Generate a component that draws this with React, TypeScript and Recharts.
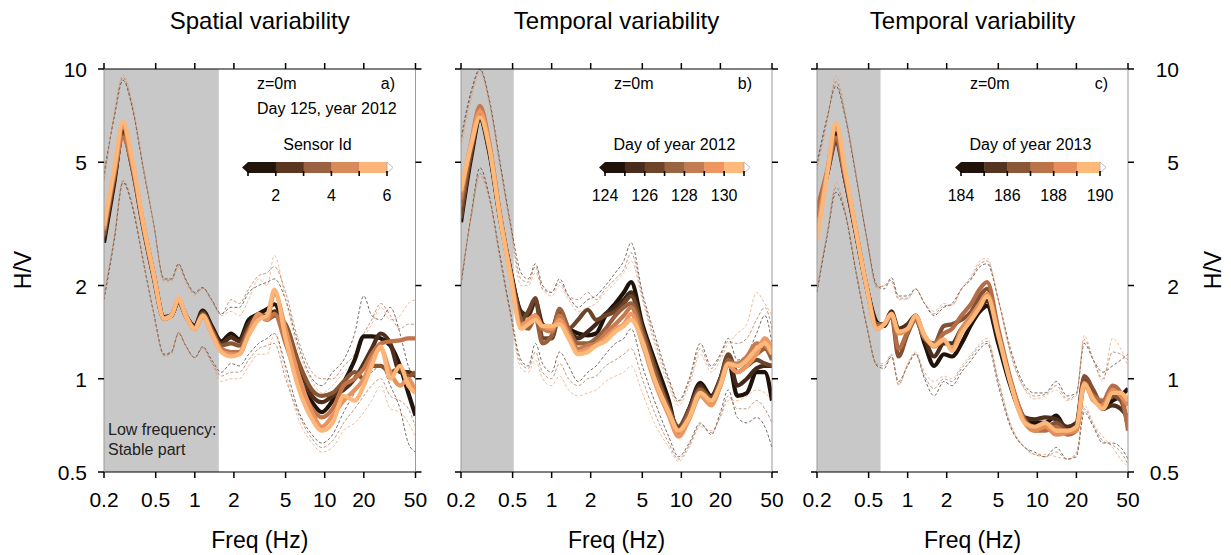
import React from 'react';
import { LineChart, Line, XAxis, YAxis, ReferenceArea } from 'recharts';

const FONT = '"Liberation Sans", Arial, Helvetica, sans-serif';
const W = 1231;
const H = 555;
const PLOT_TOP = 69;
const PLOT_BOTTOM = 472;

const freqs = [0.2, 0.24, 0.28, 0.33, 0.4, 0.48, 0.58, 0.66, 0.75, 0.85, 1.0, 1.15, 1.35, 1.6, 1.9, 2.2, 2.6, 3.1, 3.6, 4.1, 5, 6.2, 8, 9.5, 11.5, 14, 17, 20, 23, 27, 32, 38, 44, 50];
const xTicks = [0.2, 0.5, 1, 2, 5, 10, 20, 50];
const yTicks = [0.5, 1, 2, 5, 10];

// ---- Panel a: spatial variability (sensor 1..6) ----
const aS1 = [2.75, 4.3, 6.35, 4.9, 3.15, 2.2, 1.58, 1.6, 1.78, 1.6, 1.48, 1.66, 1.48, 1.32, 1.40, 1.34, 1.55, 1.62, 1.68, 1.74, 1.4, 1.02, 0.84, 0.78, 0.85, 0.97, 1.15, 1.37, 1.37, 1.35, 1.28, 1.1, 0.9, 0.76];
const aS2 = [2.85, 4.4, 6.2, 4.8, 3.1, 2.15, 1.57, 1.6, 1.78, 1.6, 1.47, 1.64, 1.46, 1.3, 1.36, 1.32, 1.5, 1.6, 1.6, 1.65, 1.45, 1.12, 0.88, 0.84, 0.88, 0.92, 1.0, 1.12, 1.25, 1.4, 1.3, 1.05, 1.05, 1.02];
const aS3 = [2.9, 4.5, 6.1, 4.8, 3.1, 2.15, 1.56, 1.6, 1.79, 1.6, 1.46, 1.62, 1.44, 1.28, 1.3, 1.28, 1.45, 1.6, 1.55, 1.6, 1.5, 1.15, 0.92, 0.88, 0.9, 0.98, 1.05, 1.0, 1.1, 1.1, 1.05, 1.08, 1.02, 1.05];
const aS4 = [3.0, 4.6, 6.0, 4.9, 3.15, 2.2, 1.57, 1.6, 1.8, 1.6, 1.45, 1.6, 1.42, 1.25, 1.22, 1.22, 1.42, 1.6, 1.55, 1.62, 1.3, 1.0, 0.8, 0.75, 0.8, 0.95, 1.0, 1.08, 1.2, 1.3, 1.32, 1.33, 1.35, 1.35];
const aS5 = [3.05, 4.7, 6.5, 5.0, 3.2, 2.2, 1.57, 1.6, 1.8, 1.6, 1.45, 1.6, 1.4, 1.23, 1.2, 1.2, 1.4, 1.62, 1.55, 1.9, 1.45, 1.05, 0.78, 0.7, 0.76, 0.85, 0.92, 1.0, 1.15, 1.25, 1.05, 0.95, 1.0, 0.9];
const aS6 = [3.12, 4.8, 6.75, 5.1, 3.2, 2.2, 1.56, 1.6, 1.82, 1.6, 1.45, 1.6, 1.4, 1.22, 1.18, 1.2, 1.38, 1.55, 1.6, 1.94, 1.35, 0.95, 0.74, 0.68, 0.72, 0.88, 0.85, 0.95, 1.1, 1.27, 1.0, 1.1, 0.95, 0.9];
const aUpD = [4.6, 7.0, 9.2, 7.5, 4.8, 3.2, 2.1, 2.1, 2.35, 2.1, 1.9, 1.97, 1.8, 1.62, 1.7, 1.7, 1.9, 2.0, 2.05, 2.1, 1.8, 1.3, 1.0, 0.95, 1.05, 1.15, 1.4, 1.85, 1.6, 1.55, 1.7, 1.4, 1.1, 1.0];
const aUpL = [4.3, 7.2, 9.6, 7.8, 4.9, 3.2, 2.05, 2.05, 2.3, 2.05, 1.85, 1.95, 1.78, 1.6, 1.65, 1.6, 1.8, 2.1, 2.0, 2.5, 1.8, 1.25, 0.98, 0.9, 0.95, 1.05, 1.15, 1.35, 1.5, 1.7, 1.55, 1.6, 1.75, 1.8];
const aUpM = [4.4, 7.1, 9.4, 7.6, 4.85, 3.2, 2.08, 2.08, 2.33, 2.08, 1.88, 1.96, 1.79, 1.61, 1.8, 1.75, 1.95, 2.15, 2.2, 2.3, 1.9, 1.35, 1.05, 1.0, 1.0, 1.1, 1.2, 1.4, 1.55, 1.75, 1.6, 1.45, 1.5, 1.5];
const aLoD = [1.8, 2.8, 4.3, 3.6, 2.4, 1.65, 1.2, 1.22, 1.4, 1.28, 1.17, 1.27, 1.15, 1.05, 1.12, 1.1, 1.2, 1.3, 1.35, 1.4, 1.1, 0.8, 0.66, 0.62, 0.66, 0.78, 0.9, 1.0, 1.05, 1.1, 0.95, 0.8, 0.62, 0.58];
const aLoL = [1.9, 2.9, 4.4, 3.7, 2.45, 1.65, 1.18, 1.2, 1.42, 1.28, 1.17, 1.25, 1.12, 0.98, 1.0, 1.0, 1.1, 1.2, 1.2, 1.4, 1.05, 0.75, 0.62, 0.58, 0.6, 0.68, 0.72, 0.78, 0.85, 0.95, 0.8, 0.78, 0.72, 0.65];
const aLoM = [1.85, 2.85, 4.35, 3.65, 2.42, 1.65, 1.19, 1.21, 1.41, 1.28, 1.17, 1.26, 1.13, 1.02, 1.05, 1.05, 1.15, 1.25, 1.28, 1.3, 1.0, 0.78, 0.64, 0.6, 0.63, 0.72, 0.8, 0.88, 0.95, 1.0, 0.88, 0.85, 0.8, 0.7];

// ---- Panel b: temporal variability, 2012 (day 124..130) ----
const bS1 = [3.2, 5.2, 6.9, 5.4, 3.3, 2.25, 1.6, 1.5, 1.6, 1.45, 1.45, 1.55, 1.45, 1.4, 1.38, 1.4, 1.6, 1.75, 1.9, 2.05, 1.5, 1.15, 0.85, 0.66, 0.8, 0.97, 0.88, 1.0, 1.15, 0.88, 0.9, 1.05, 1.05, 0.85];
const bS2 = [3.4, 5.4, 7.0, 5.5, 3.35, 2.25, 1.65, 1.6, 1.78, 1.5, 1.45, 1.65, 1.45, 1.35, 1.42, 1.5, 1.62, 1.7, 1.8, 1.9, 1.45, 1.1, 0.82, 0.68, 0.8, 0.95, 0.85, 1.0, 1.18, 0.95, 1.0, 1.08, 1.1, 1.1];
const bS3 = [3.3, 5.4, 7.0, 5.5, 3.3, 2.2, 1.55, 1.65, 1.82, 1.35, 1.35, 1.6, 1.45, 1.55, 1.67, 1.55, 1.6, 1.65, 1.75, 1.85, 1.45, 1.1, 0.8, 0.7, 0.8, 0.93, 0.87, 1.0, 1.2, 1.05, 1.1, 1.15, 1.12, 1.1];
const bS4 = [3.6, 5.6, 7.2, 5.6, 3.35, 2.2, 1.55, 1.45, 1.58, 1.3, 1.38, 1.68, 1.45, 1.3, 1.3, 1.35, 1.45, 1.6, 1.7, 1.75, 1.4, 1.05, 0.8, 0.68, 0.78, 0.92, 0.85, 0.98, 1.15, 1.1, 1.15, 1.2, 1.25, 1.15];
const bS5 = [3.8, 5.8, 7.6, 5.8, 3.4, 2.2, 1.5, 1.52, 1.6, 1.45, 1.42, 1.6, 1.4, 1.25, 1.28, 1.3, 1.4, 1.5, 1.6, 1.7, 1.35, 1.0, 0.78, 0.66, 0.75, 0.9, 0.83, 0.95, 1.12, 1.12, 1.18, 1.3, 1.28, 1.2];
const bS6 = [4.0, 5.8, 7.3, 5.7, 3.35, 2.2, 1.48, 1.55, 1.6, 1.48, 1.45, 1.55, 1.38, 1.22, 1.25, 1.28, 1.35, 1.45, 1.5, 1.62, 1.3, 0.98, 0.76, 0.65, 0.74, 0.88, 0.82, 0.95, 1.1, 1.05, 1.1, 1.2, 1.35, 1.25];
const bS7 = [4.05, 5.7, 7.0, 5.6, 3.3, 2.15, 1.45, 1.5, 1.55, 1.48, 1.48, 1.5, 1.35, 1.2, 1.22, 1.28, 1.32, 1.42, 1.48, 1.55, 1.32, 1.0, 0.78, 0.68, 0.75, 0.9, 0.85, 0.96, 1.12, 1.1, 1.15, 1.25, 1.3, 1.2];
const bUpD = [6.0, 8.5, 10, 8.0, 5.0, 3.2, 2.2, 2.1, 2.35, 2.0, 1.9, 2.1, 1.85, 1.7, 1.8, 1.85, 2.0, 2.2, 2.4, 2.75, 1.9, 1.4, 1.0, 0.85, 1.0, 1.3, 1.1, 1.2, 1.35, 1.15, 1.2, 1.4, 1.6, 1.3];
const bUpL = [5.5, 8.0, 9.7, 7.7, 4.8, 3.1, 2.0, 2.0, 2.2, 1.95, 1.85, 2.0, 1.8, 1.65, 1.7, 1.75, 1.9, 2.05, 2.2, 2.4, 1.8, 1.3, 0.95, 0.82, 0.95, 1.2, 1.05, 1.15, 1.3, 1.4, 1.5, 1.9, 1.75, 1.6];
const bUpM = [5.8, 8.3, 9.9, 7.9, 4.9, 3.15, 2.1, 2.05, 2.3, 1.95, 1.9, 2.05, 1.85, 1.8, 1.9, 1.8, 1.95, 2.1, 2.25, 2.55, 1.85, 1.35, 0.98, 0.84, 0.98, 1.25, 1.08, 1.18, 1.32, 1.3, 1.35, 1.55, 1.7, 1.45];
const bLoD = [2.0, 3.4, 4.8, 3.9, 2.5, 1.65, 1.15, 1.1, 1.3, 1.12, 1.05, 1.22, 1.1, 0.98, 1.05, 1.1, 1.2, 1.3, 1.35, 1.45, 1.1, 0.85, 0.65, 0.56, 0.62, 0.72, 0.66, 0.78, 0.92, 0.75, 0.72, 0.75, 0.7, 0.6];
const bLoL = [2.1, 3.3, 4.5, 3.8, 2.4, 1.6, 1.08, 1.05, 1.15, 1.0, 0.95, 1.02, 0.92, 0.88, 0.9, 0.92, 0.98, 1.02, 1.05, 1.1, 0.9, 0.72, 0.6, 0.54, 0.6, 0.7, 0.68, 0.75, 0.85, 0.85, 0.88, 0.92, 0.9, 0.85];
const bLoM = [2.05, 3.35, 4.6, 3.85, 2.45, 1.62, 1.12, 1.08, 1.22, 1.05, 1.0, 1.12, 1.0, 0.95, 1.0, 1.02, 1.1, 1.15, 1.2, 1.25, 1.0, 0.78, 0.62, 0.55, 0.61, 0.71, 0.67, 0.76, 0.88, 0.8, 0.8, 0.85, 0.8, 0.72];

// ---- Panel c: temporal variability, 2013 (day 184..190) ----
const cS1 = [3.3, 4.6, 6.2, 4.4, 2.95, 2.0, 1.52, 1.48, 1.62, 1.42, 1.48, 1.58, 1.3, 1.1, 1.2, 1.18, 1.3, 1.5, 1.65, 1.72, 1.3, 0.95, 0.74, 0.72, 0.72, 0.76, 0.68, 0.7, 0.98, 0.9, 0.8, 0.85, 0.88, 0.93];
const cS2 = [3.5, 4.6, 5.8, 4.4, 2.95, 2.0, 1.5, 1.5, 1.65, 1.45, 1.5, 1.6, 1.35, 1.18, 1.3, 1.3, 1.45, 1.55, 1.7, 1.78, 1.35, 0.97, 0.75, 0.74, 0.75, 0.74, 0.7, 0.72, 1.0, 0.9, 0.8, 0.82, 0.8, 0.75];
const cS3 = [3.4, 4.6, 5.9, 4.4, 2.95, 2.0, 1.5, 1.5, 1.6, 1.18, 1.4, 1.55, 1.35, 1.3, 1.48, 1.5, 1.55, 1.65, 1.85, 1.95, 1.4, 0.98, 0.74, 0.7, 0.7, 0.72, 0.68, 0.7, 1.02, 0.92, 0.82, 0.88, 0.85, 0.7];
const cS4 = [3.5, 4.7, 6.0, 4.5, 3.0, 2.0, 1.48, 1.5, 1.6, 1.25, 1.42, 1.55, 1.35, 1.3, 1.4, 1.45, 1.6, 1.75, 1.95, 2.05, 1.45, 1.0, 0.73, 0.68, 0.68, 0.7, 0.66, 0.68, 0.95, 0.88, 0.85, 0.95, 0.9, 0.68];
const cS5 = [3.0, 4.7, 6.5, 4.6, 3.0, 2.0, 1.45, 1.5, 1.62, 1.4, 1.45, 1.58, 1.38, 1.27, 1.33, 1.25, 1.45, 1.6, 1.75, 1.88, 1.4, 0.98, 0.72, 0.68, 0.7, 0.66, 0.67, 0.68, 0.97, 0.85, 0.82, 0.92, 0.88, 0.82];
const cS6 = [2.8, 4.6, 6.7, 4.7, 3.0, 2.0, 1.45, 1.5, 1.62, 1.42, 1.45, 1.6, 1.38, 1.28, 1.34, 1.23, 1.4, 1.55, 1.7, 1.85, 1.38, 0.97, 0.72, 0.7, 0.72, 0.68, 0.68, 0.7, 0.96, 0.86, 0.8, 0.9, 0.9, 0.85];
const cUpD = [5.0, 7.0, 8.8, 7.0, 4.5, 2.9, 2.0, 1.95, 2.12, 1.85, 1.85, 1.95, 1.75, 1.6, 1.7, 1.75, 1.95, 2.1, 2.3, 2.35, 1.8, 1.25, 0.95, 0.9, 0.9, 0.98, 0.88, 0.9, 1.3, 1.15, 1.05, 1.1, 1.15, 1.2];
const cUpL = [4.7, 6.8, 9.5, 7.3, 4.6, 2.9, 1.95, 2.0, 2.05, 1.8, 1.8, 1.95, 1.75, 1.65, 1.75, 1.72, 1.95, 2.15, 2.4, 2.45, 1.8, 1.2, 0.92, 0.86, 0.88, 0.92, 0.85, 0.88, 1.38, 1.15, 0.98, 1.35, 1.25, 1.1];
const cUpM = [4.85, 6.9, 9.1, 7.1, 4.55, 2.9, 1.98, 2.0, 2.08, 1.82, 1.82, 1.95, 1.75, 1.62, 1.72, 1.73, 1.95, 2.12, 2.35, 2.4, 1.8, 1.22, 0.93, 0.88, 0.89, 0.95, 0.86, 0.89, 1.34, 1.15, 1.0, 1.22, 1.2, 1.15];
const cLoD = [1.9, 2.9, 4.0, 3.4, 2.2, 1.5, 1.1, 1.08, 1.18, 0.98, 1.1, 1.2, 1.0, 0.88, 0.98, 0.95, 1.05, 1.15, 1.25, 1.3, 0.95, 0.7, 0.6, 0.58, 0.56, 0.6, 0.55, 0.56, 0.78, 0.7, 0.62, 0.62, 0.6, 0.55];
const cLoL = [2.0, 3.0, 4.3, 3.5, 2.25, 1.5, 1.12, 1.12, 1.2, 0.95, 1.12, 1.22, 1.05, 0.98, 1.02, 1.0, 1.1, 1.2, 1.3, 1.35, 1.0, 0.72, 0.6, 0.57, 0.57, 0.56, 0.55, 0.58, 0.82, 0.72, 0.65, 0.6, 0.55, 0.52];
const cLoM = [1.95, 2.95, 4.15, 3.45, 2.22, 1.5, 1.11, 1.1, 1.19, 0.96, 1.11, 1.21, 1.02, 0.93, 1.0, 0.98, 1.08, 1.18, 1.28, 1.32, 0.98, 0.71, 0.6, 0.57, 0.56, 0.58, 0.55, 0.57, 0.8, 0.71, 0.63, 0.61, 0.58, 0.53];

const aColors = ['#21140b', '#4f2f1c', '#8a5533', '#c07448', '#e8935f', '#fdb679'];
const bColors = ['#1e120a', '#42281a', '#6b4429', '#98603c', '#c57c50', '#ee9762', '#fdb97a'];
const cColors = ['#1e120a', '#4d2f1e', '#825034', '#b46e47', '#e28e5b', '#fdb778'];
const dashColors = ['#3d2b20', '#e9a171', '#a06a4a', '#3d2b20', '#e9a171', '#a06a4a'];

const aBar = ['#22150c', '#5a3520', '#9a6240', '#d98a5b', '#fcb478'];
const bBar = ['#1e120b', '#4a2c1c', '#6f4529', '#9a6440', '#c27c52', '#ee9660', '#fdb97b'];
const cBar = ['#1e120b', '#553522', '#8a5836', '#bb744a', '#e68f5c', '#fdb97a'];
const aBarTicks = [1, 2, 3, 4, 5, 6];
const aBarLabels = [2, 4, 6];
const bBarTicks = [124, 125, 126, 127, 128, 129, 130, 131];
const bBarLabels = [124, 126, 128, 130];
const cBarTicks = [184, 185, 186, 187, 188, 189, 190];
const cBarLabels = [184, 186, 188, 190];

type PanelCfg = {
  left: number;
  right: number;
  shadeEnd: number;
  thick: number[][];
  colors: string[];
  dashed: number[][];
  yLabels: 'left' | 'right' | 'none';
};

const panels: PanelCfg[] = [
  { left: 104, right: 415.5, shadeEnd: 1.53, thick: [aS1, aS2, aS3, aS4, aS5, aS6], colors: aColors, dashed: [aUpD, aUpL, aUpM, aLoD, aLoL, aLoM], yLabels: 'left' },
  { left: 461, right: 772, shadeEnd: 0.51, thick: [bS1, bS2, bS3, bS4, bS5, bS6, bS7], colors: bColors, dashed: [bUpD, bUpL, bUpM, bLoD, bLoL, bLoM], yLabels: 'none' },
  { left: 817, right: 1128, shadeEnd: 0.618, thick: [cS1, cS2, cS3, cS4, cS5, cS6], colors: cColors, dashed: [cUpD, cUpL, cUpM, cLoD, cLoL, cLoM], yLabels: 'right' },
];

const NoTick = () => <g />;

function Panel({ cfg }: { cfg: PanelCfg }) {
  const leftW = cfg.yLabels === 'left' ? 60 : 10;
  const rightW = cfg.yLabels === 'right' ? 60 : 10;
  const margin = {
    top: PLOT_TOP - 10,
    bottom: H - PLOT_BOTTOM - 40,
    left: cfg.left - leftW,
    right: W - cfg.right - rightW,
  };
  const data = freqs.map((f, i) => {
    const row: Record<string, number> = { f };
    cfg.thick.forEach((s, k) => { row['s' + k] = s[i]; });
    cfg.dashed.forEach((s, k) => { row['d' + k] = s[i]; });
    return row;
  });
  const xTick = (p: any) => (
    <text x={p.x} y={507} textAnchor="middle" fontSize={21} fontFamily={FONT} fill="#000">{String(p.payload.value)}</text>
  );
  const yTickLeft = (p: any) => (
    <text x={cfg.left - 17} y={p.y + 8} textAnchor="end" fontSize={21} fontFamily={FONT} fill="#000">{String(p.payload.value)}</text>
  );
  const yTickRight = (p: any) => (
    <text x={cfg.right + 51} y={p.y + 8} textAnchor="end" fontSize={21} fontFamily={FONT} fill="#000">{String(p.payload.value)}</text>
  );
  return (
    <div style={{ position: 'absolute', left: 0, top: 0 }}>
      <LineChart width={W} height={H} data={data} margin={margin}>
        <ReferenceArea x1={0.2} x2={cfg.shadeEnd} y1={0.5} y2={10} fill="#c8c8c8" fillOpacity={1} stroke="none" ifOverflow="hidden" />
        <XAxis dataKey="f" type="number" scale="log" domain={[0.2, 50]} ticks={xTicks} interval={0} allowDataOverflow
          height={40} tickSize={6} axisLine={{ stroke: '#000', strokeWidth: 1 }} tickLine={{ stroke: '#000', strokeWidth: 1.5 }} tick={xTick} />
        <XAxis xAxisId="top" orientation="top" dataKey="f" type="number" scale="log" domain={[0.2, 50]} ticks={xTicks} interval={0} allowDataOverflow
          height={10} tickSize={6} axisLine={{ stroke: '#000', strokeWidth: 1 }} tickLine={{ stroke: '#000', strokeWidth: 1.5 }} tick={NoTick} />
        <YAxis type="number" scale="log" domain={[0.5, 10]} ticks={yTicks} interval={0} allowDataOverflow width={leftW}
          tickSize={6} axisLine={{ stroke: '#999', strokeWidth: 1 }} tickLine={{ stroke: '#000', strokeWidth: 1.5 }}
          tick={cfg.yLabels === 'left' ? yTickLeft : NoTick} />
        <YAxis yAxisId="right" orientation="right" type="number" scale="log" domain={[0.5, 10]} ticks={yTicks} interval={0} allowDataOverflow width={rightW}
          tickSize={6} axisLine={{ stroke: '#999', strokeWidth: 1 }} tickLine={{ stroke: '#000', strokeWidth: 1.5 }}
          tick={cfg.yLabels === 'right' ? yTickRight : NoTick} />
        {cfg.dashed.map((_, k) => (
          <Line key={'d' + k} dataKey={'d' + k} type="monotone" stroke={dashColors[k]} strokeWidth={0.7} strokeDasharray="3 2"
            dot={false} activeDot={false} isAnimationActive={false} />
        ))}
        {cfg.thick.map((_, k) => (
          <Line key={'s' + k} dataKey={'s' + k} type="monotone" stroke={cfg.colors[k]} strokeWidth={4.2}
            dot={false} activeDot={false} isAnimationActive={false} />
        ))}
      </LineChart>
    </div>
  );
}

function Colorbar({ left, colors, ticks, labels, title }: { left: number; colors: string[]; ticks: number[]; labels: number[]; title: string }) {
  const x0 = left + 144;
  const x1 = left + 283;
  const y0 = 162;
  const h = 11;
  const w = (x1 - x0) / colors.length;
  const t0 = ticks[0];
  const t1 = ticks[ticks.length - 1];
  const pos = (v: number) => x0 + ((v - t0) / (t1 - t0)) * (x1 - x0);
  return (
    <g fontFamily={FONT}>
      <text x={(x0 + x1) / 2} y={150} textAnchor="middle" fontSize={16} fill="#000">{title}</text>
      <polygon points={`${x0},${y0} ${x0},${y0 + h} ${x0 - 6},${y0 + h / 2}`} fill={colors[0]} />
      {colors.map((c, i) => (
        <rect key={i} x={x0 + i * w} y={y0} width={w + 0.4} height={h} fill={c} />
      ))}
      <polygon points={`${x1},${y0} ${x1},${y0 + h} ${x1 + 6},${y0 + h / 2}`} fill="#fff" stroke="#aaa" strokeWidth={0.8} />
      {ticks.map((t) => (
        <line key={t} x1={pos(t)} x2={pos(t)} y1={y0 + h - 2} y2={y0 + h + 3} stroke="#000" strokeWidth={1.6} />
      ))}
      {labels.map((l) => (
        <text key={l} x={pos(l)} y={201} textAnchor="middle" fontSize={16} fill="#000">{String(l)}</text>
      ))}
    </g>
  );
}

export default function App() {
  const titles = ['Spatial variability', 'Temporal variability', 'Temporal variability'];
  const tags = ['a)', 'b)', 'c)'];
  return (
    <div style={{ position: 'absolute', left: 0, top: 0, width: W, height: H, background: '#fff', fontFamily: FONT }}>
      {panels.map((p, i) => <Panel key={i} cfg={p} />)}
      <svg width={W} height={H} style={{ position: 'absolute', left: 0, top: 0, pointerEvents: 'none' }} fontFamily={FONT}>
        {panels.map((p, i) => {
          const cx = (p.left + p.right) / 2;
          return (
            <g key={i}>
              <text x={cx} y={29} textAnchor="middle" fontSize={24} fill="#000">{titles[i]}</text>
              <text x={cx} y={548} textAnchor="middle" fontSize={23} fill="#000">Freq (Hz)</text>
              <text x={p.left + 153} y={89} fontSize={16} fill="#000">z=0m</text>
              <text x={p.left + 291} y={89} textAnchor="end" fontSize={16} fill="#000">{tags[i]}</text>
            </g>
          );
        })}
        <text x={257} y={114} fontSize={16} fill="#000">Day 125, year 2012</text>
        <text x={108} y={435} fontSize={16} fill="#222">Low frequency:</text>
        <text x={108} y={455} fontSize={16} fill="#222">Stable part</text>
        <text x={31} y={270} textAnchor="middle" fontSize={23} fill="#000" transform="rotate(-90 31 270)">H/V</text>
        <text x={1221} y={270} textAnchor="middle" fontSize={23} fill="#000" transform="rotate(-90 1221 270)">H/V</text>
        <Colorbar left={panels[0].left} colors={aBar} ticks={aBarTicks} labels={aBarLabels} title="Sensor Id" />
        <Colorbar left={panels[1].left} colors={bBar} ticks={bBarTicks} labels={bBarLabels} title="Day of year 2012" />
        <Colorbar left={panels[2].left} colors={cBar} ticks={cBarTicks} labels={cBarLabels} title="Day of year 2013" />
      </svg>
    </div>
  );
}
